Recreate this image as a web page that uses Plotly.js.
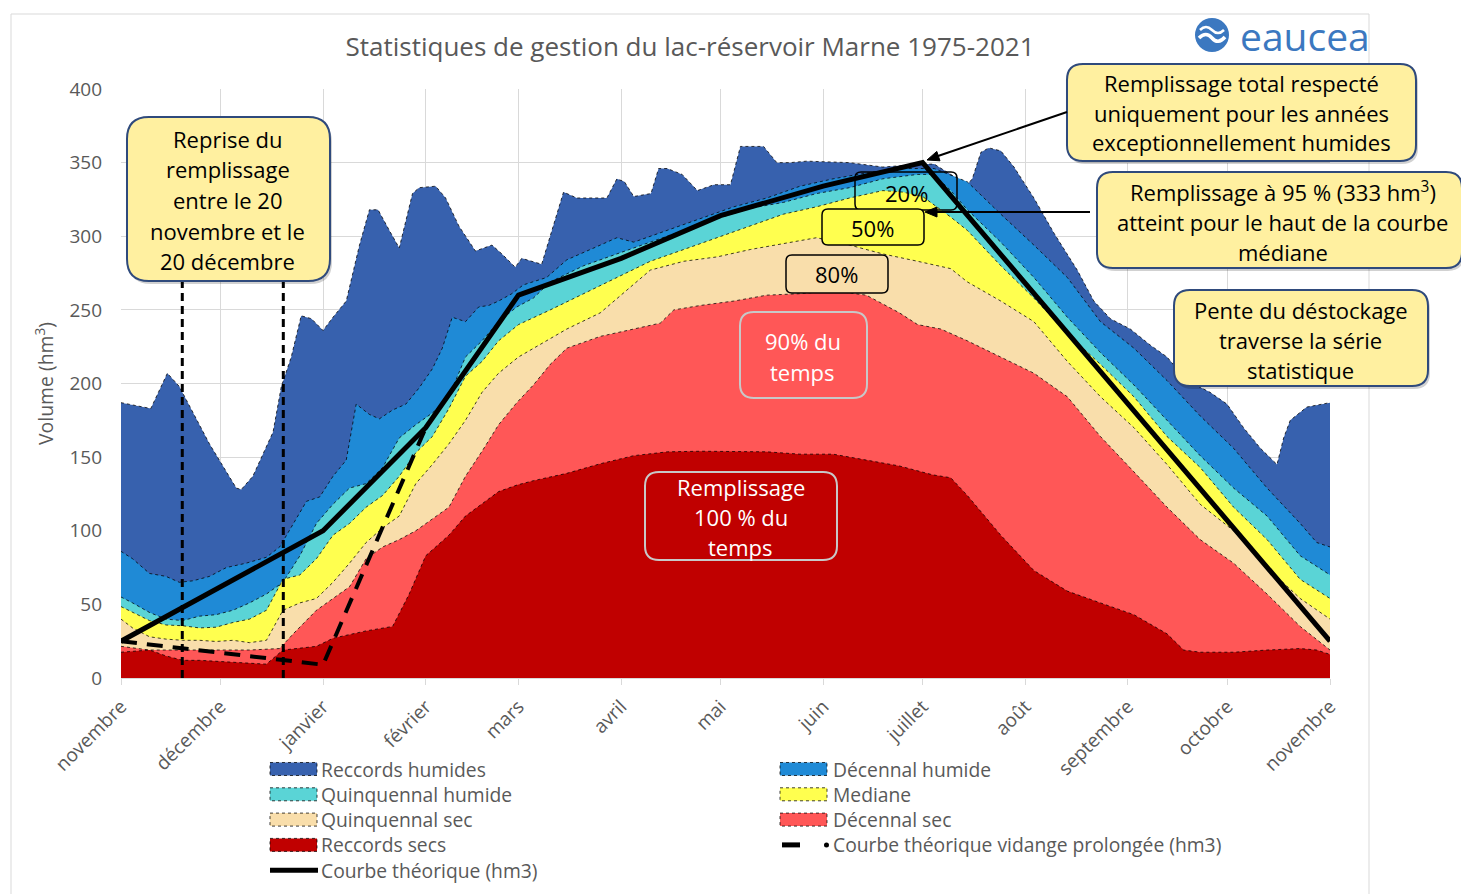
<!DOCTYPE html>
<html><head><meta charset="utf-8">
<script src="https://cdn.plot.ly/plotly-3.0.1.min.js"></script>
<style>html,body{margin:0;padding:0;background:#fff}#chart{width:1461px;height:894px}</style>
</head><body><div id="chart"></div>
<script>
// ---------- DATA (day index from 1 November, volume in hm3) ----------
const monthLabels = ['novembre','décembre','janvier','février','mars','avril','mai','juin','juillet','août','septembre','octobre','novembre'];
const monthDays = [0,30,61,92,120,151,181,212,242,273,304,334,365];

const recHumDays = [0,9,14,17.6,19.7,26.7,34.8,36.3,39.8,45.9,48.4,51.4,54.4,57.5,61,64,68,72,75,77.6,81,84,88,90,95,98,102,107,112,115,119,121,127,133.6,137.6,146.7,149.7,152,154.8,160,162.3,164.9,169.4,174,179,184,187,194,198,202,207,220,230,242,245.5,255.5,257,259.6,262,265.6,269.6,275.6,281.7,288.7,293.7,298.7,304.7,310.8,315.8,321.8,328.8,333.9,338.9,344,349,351,353,358,365];
const recHumVals = [187,183,207,198,189,159,129,128,137,167,198,218,246,244,236,245,256,294,318,318,304,292,329,333,334,326,307,290,294,288,279,285,281,330,326,326,339,337,327,329,346,346,342,331,335,335,361,361,350,350,351,350,347,349,349,335,339,357,360,358,347,326,302,277,256,244,237,226,218,202,194,186,170,156,145,163,175,184,187];

const decHumDays = [0,3.5,8.6,13.6,17.6,21.7,26.7,31.8,37.8,43.9,47.9,52,56,60,64,68,71,75,78,82,86,90,94,97,100,104,108,111,114,118,121.5,128.5,134.6,143.7,149.7,154.8,165,175,185,195,205,215,225,235,245.5,255.5,265.6,275.6,285.7,295.7,305.8,315.8,325.8,335.9,346,356,361,365];
const decHumVals = [86,81,71,69,65,66,69,75,78,82,89,105,120,123,137,148,186,179,176,182,186,197,210,224,245,242,252,253,256,261,267,272,284,293,299,296,304,312,320,326,334,339,343,346,346,337,315,294,272,242,224,202,178,156,129,105,92,89];

const quiHumDays = [0,3.5,8.6,13.6,18.6,23.7,28.7,33.8,38.8,43.9,48.9,54,59,64,69,74,79,84,89,94,99,104,109,114,119.5,124.5,129.6,139.7,149.7,159.8,169.9,180,190,200,210,220,230,240.5,245.5,250.5,255.5,265.6,275.6,285.7,295.7,305.8,315.8,325.8,335.9,346,356,365];
const quiHumVals = [55,51,44.5,40,39,42,43,46,51,57,65,83,105,118,129,132,143,163,172,180,191,218,229,242,252,258,269,280,288,296,304,312,319,323,329,333,339,342,342,331,318,296,272,245,221,199,175,151,129,110,83,70];

const medDays = [0,3.5,8.6,13.6,18.6,23.7,28.7,33.8,38.8,43.9,48.9,54,59,64,69,74,79,84,89,94,99,104,109,114,120,129.6,139.7,149.7,159.8,169.9,180,190,200,210,220,230,236,242,250.5,255.5,265.6,275.6,285.7,295.7,305.8,315.8,325.8,335.9,346,356,365];
const medVals = [48.5,44.5,39,36,35.5,34,34.5,37.7,40,46,67,70,81,97,105,116,124,137,153,164,183,205,215,229,240,250,261,272,283,291,299,307,315,320,326,331,330,327,313,304,280,258,234,213,191,164,143,116,94,67,54];

const quiSecDays = [0,3.5,8.6,13.6,18.6,23.7,28.7,33.8,38.8,43.9,48.9,54,59,64,69,74,79,84,89,94,99,104,109,114,120,124.5,134.6,144.7,154.8,159.8,169.9,180,190,200,210,220,230,240.5,250.5,255.5,265.6,275.6,285.7,295.7,305.8,315.8,325.8,335.9,346,356,365];
const quiSecVals = [40,34,28,26.4,25.6,25.6,24.8,25.6,24,25.6,46,51,54,65,78,92,102,110,132,145,159,175,194,207,218,224,237,248,267,277,283,286,291,295,299,294,288,283,278,269,256,242,215,191,170,145,118,100,75,54,40];

const decSecDays = [0,8.6,18.6,28.7,38.8,47.9,52,59,64,69,74,79,84,89,94,99,104,109,114,119.5,124.5,129.6,134.6,144.7,154.8,162.8,166.9,174.9,185,195,205,215,225,235,240.5,247.5,255.5,265.6,275.6,285.7,295.7,305.8,315.8,325.8,335.9,346,356,365];
const decSecVals = [21.5,19,19,19,19,20,30,46,54,62,81,89,94,100,108,116,137,154,172,187,199,213,224,232,237,241,250,253,256,260,261,263,260,248,240,237,229,218,207,191,164,140,116,94,78,57,35,19];

const recSecDays = [0,8.6,13.6,18.6,23.7,33.8,43.9,48.9,59,64,74,82,87,92,99,104,109,114,119.5,124.5,134.6,144.7,154.8,165,175,185,195,205,215,225,235,245,250.5,255.5,265.6,275.6,285.7,295.7,305.8,315.8,320.8,325.8,335.9,346,356,361,365];
const recSecVals = [17.5,19,15,12,12,10.8,9.4,19,21.5,27,32,35,57,83,97,110,118.5,126.6,131,134,139,145.5,151,153.6,154,154,153.6,152,152,148,144,138,136,124,97,73,59,51,43,30,19,17.5,17.5,19,20,19,16];

const theoDays = [0,61,92,120,151,181,212,242,365];
const theoVals = [25,100,170,260,285,314,334,350,25];

const vidDays = [0,61,92];
const vidVals = [25,9,170];

const seriesNames = ['Reccords humides','Décennal humide','Quinquennal humide','Mediane','Quinquennal sec','Décennal sec','Reccords secs'];
const seriesColors = ['#3761AE','#1F8AD6','#5AD4D6','#FFFF4F','#F9DEAB','#FF5757','#C00000'];
const lineNames = ['Courbe théorique vidange prolongée (hm3)','Courbe théorique (hm3)'];

// ---------- LAYOUT HELPERS (pixel -> paper) ----------
const L=121, R=1330, T=89, B=678, W=R-L, H=B-T;
const X = px => +((px-L)/W).toFixed(5);
const Y = py => +((B-py)/H).toFixed(5);
const pp = s => s.replace(/(-?\d+(?:\.\d+)?),(-?\d+(?:\.\d+)?)/g,(m,a,b)=>X(+a)+','+Y(+b));
function rr(x0,y0,x1,y1,r){
  return pp(`M${x0+r},${y0} L${x1-r},${y0} Q${x1},${y0} ${x1},${y0+r} L${x1},${y1-r} Q${x1},${y1} ${x1-r},${y1} L${x0+r},${y1} Q${x0},${y1} ${x0},${y1-r} L${x0},${y0+r} Q${x0},${y0} ${x0+r},${y0} Z`);
}
const F = "'Open Sans', sans-serif";
const GREY = '#595959';
const shapes = [], annotations = [];
function addBox(x0,y0,x1,y1,r,fill,line,lw,shadow){
  if(shadow) shapes.push({type:'path',xref:'paper',yref:'paper',path:rr(x0+2,y0+3,x1+2,y1+3,r),fillcolor:'rgba(0,0,0,0.18)',line:{width:0}});
  shapes.push({type:'path',xref:'paper',yref:'paper',path:rr(x0,y0,x1,y1,r),fillcolor:fill,line:{color:line,width:lw}});
}
function addLines(lines,cx,y0,dy,size,color,anchor){
  lines.forEach((t,i)=>annotations.push({xref:'paper',yref:'paper',x:X(cx),y:Y(y0+i*dy),text:t,showarrow:false,xanchor:anchor||'center',yanchor:'middle',font:{family:F,size:size,color:color}}));
}

// outer chart border
shapes.push({type:'rect',xref:'paper',yref:'paper',x0:X(11),x1:X(1369),y0:Y(14),y1:Y(910),line:{color:'#D9D9D9',width:1},fillcolor:'rgba(0,0,0,0)',layer:'below'});

// vertical dashed lines (20 nov / 20 dec)
[18.5,49].forEach(d=>shapes.push({type:'line',xref:'x',yref:'y',x0:d,x1:d,y0:0,y1:269,line:{color:'#000',width:3,dash:'8px,5px'}}));

// boxes
const YEL='#FFF0A0', NAVY='#2F4A7C', TS=22;
addBox(127,117,330,281,22,YEL,NAVY,2,true);
addLines(['Reprise du','remplissage','entre le 20','novembre et le','20 décembre'],228,139,30.5,TS,'#000');

addBox(1067,64,1416,161,16,YEL,NAVY,2,true);
addLines(['Remplissage total respecté','uniquement pour les années','exceptionnellement humides'],1241,83,29.5,TS,'#000');

addBox(1097,172,1462,268,16,YEL,NAVY,2,true);
addLines(['Remplissage à 95 % (333 hm<sup>3</sup>)','atteint pour le haut de la courbe','médiane'],1283,192,30,TS,'#000');

addBox(1174,290,1428,386,16,YEL,NAVY,2,true);
addLines(['Pente du déstockage','traverse la série','statistique'],1301,310,30,TS,'#000');

addBox(855,172,957,210,6,'rgba(0,0,0,0)','#000',1.5,false);
addLines(['20%'],906,193,0,TS,'#000');
addBox(822,209,924,245,6,'#FFFF4F','#000',1.5,false);
addLines(['50%'],873,228,0,TS,'#000');
addBox(786,255,888,293,6,'#F9DEAB','#000',1.5,false);
addLines(['80%'],837,274,0,TS,'#000');
addBox(740,312,867,398,14,'#FF5757','#C8C8C8',2,false);
addLines(['90% du','temps'],803,341,31,TS,'#fff');
addBox(645,472,837,560,14,'#C00000','#C8C8C8',2,false);
addLines(['Remplissage','100 % du','temps'],741,487,30,TS,'#fff');

// arrows (line + head)
shapes.push({type:'path',xref:'paper',yref:'paper',path:pp('M1067,112 L938,156'),line:{color:'#000',width:2}});
shapes.push({type:'path',xref:'paper',yref:'paper',path:pp('M927,160 L940,160.8 L936.8,151.4 Z'),fillcolor:'#000',line:{color:'#000',width:1}});
shapes.push({type:'path',xref:'paper',yref:'paper',path:pp('M1090,212 L936,212'),line:{color:'#000',width:2}});
shapes.push({type:'path',xref:'paper',yref:'paper',path:pp('M925,212 L937,207 L937,217 Z'),fillcolor:'#000',line:{color:'#000',width:1}});

// logo
const LOGO='#3B78C0';
shapes.push({type:'circle',xref:'paper',yref:'paper',x0:X(1195),x1:X(1229),y0:Y(52),y1:Y(18),fillcolor:LOGO,line:{width:0}});
shapes.push({type:'path',xref:'paper',yref:'paper',path:pp('M1200,30 Q1206,24 1212,30 T1224,30'),line:{color:'#fff',width:2.5}});
shapes.push({type:'path',xref:'paper',yref:'paper',path:pp('M1199,38 Q1206,31 1212,38 T1225,37'),line:{color:'#fff',width:3.5}});
annotations.push({xref:'paper',yref:'paper',x:X(1238),y:Y(35),xanchor:'left',yanchor:'middle',text:'eaucea',showarrow:false,font:{family:F,size:39,color:LOGO}});

// legend (two columns, drawn below the axis)
const legRows = [769,794.3,819.6,844.9,870.2];
const legCols = [[270,319],[780,831]];
const LS = 19.3;
const legOrder = [0,1,2,3,4,5,6,7,8]; // reading order: row by row, left then right
legOrder.forEach((k,i)=>{
  const row = Math.floor(i/2), col = i%2;
  const yc = legRows[row], [sx,tx] = legCols[col];
  if(k<7){
    shapes.push({type:'rect',xref:'paper',yref:'paper',x0:X(sx),x1:X(sx+47),y0:Y(yc-6.5),y1:Y(yc+6.5),fillcolor:seriesColors[k],line:{color:'rgba(0,0,0,0.75)',width:1,dash:'dot'}});
    addLines([seriesNames[k]],tx,yc,0,LS,GREY,'left');
  } else if(k===7){
    shapes.push({type:'line',xref:'paper',yref:'paper',x0:X(sx+2),x1:X(sx+20),y0:Y(yc),y1:Y(yc),line:{color:'#000',width:5}});
    shapes.push({type:'circle',xref:'paper',yref:'paper',x0:X(sx+44),x1:X(sx+49),y0:Y(yc+2.5),y1:Y(yc-2.5),fillcolor:'#000',line:{width:0}});
    addLines([lineNames[0]],tx,yc,0,LS,GREY,'left');
  } else {
    shapes.push({type:'line',xref:'paper',yref:'paper',x0:X(sx),x1:X(sx+48),y0:Y(yc),y1:Y(yc),line:{color:'#000',width:5}});
    addLines([lineNames[1]],tx,yc,0,LS,GREY,'left');
  }
});

// ---------- TRACES ----------
const dotLine = {color:'rgba(0,0,0,0.75)',width:1,dash:'dot'};
const areaDays = [recHumDays,decHumDays,quiHumDays,medDays,quiSecDays,decSecDays,recSecDays];
const areaVals = [recHumVals,decHumVals,quiHumVals,medVals,quiSecVals,decSecVals,recSecVals];
const traces = seriesNames.map((n,i)=>({type:'scatter',mode:'lines',name:n,x:areaDays[i],y:areaVals[i],fill:'tozeroy',fillcolor:seriesColors[i],line:dotLine,showlegend:false}));
traces.push({type:'scatter',mode:'lines',name:lineNames[0],x:vidDays,y:vidVals,line:{color:'#000',width:4,dash:'16px,10px'},showlegend:false});
traces.push({type:'scatter',mode:'lines',name:lineNames[1],x:theoDays,y:theoVals,line:{color:'#000',width:5},showlegend:false});

const layout = {
  width:1461, height:894,
  margin:{l:L, r:1461-R, t:T, b:894-B, pad:0},
  paper_bgcolor:'#fff', plot_bgcolor:'#fff',
  font:{family:F, color:GREY},
  title:{text:'Statistiques de gestion du lac-réservoir Marne 1975-2021', font:{family:F,size:26,color:GREY}, xref:'paper', x:X(690), xanchor:'center', yref:'container', y:1-47/894, yanchor:'middle'},
  xaxis:{range:[0,365], tickvals:monthDays, ticktext:monthLabels, tickangle:-45, tickfont:{family:F,size:19,color:GREY}, showgrid:true, gridcolor:'#D9D9D9', gridwidth:1, zeroline:false, showline:true, linecolor:'#D9D9D9', ticks:'outside', ticklen:6, tickcolor:'#D9D9D9', ticklabelstandoff:3, fixedrange:true},
  yaxis:{range:[0,400], dtick:50, tickfont:{family:F,size:19,color:GREY}, showgrid:true, gridcolor:'#D9D9D9', gridwidth:1, zeroline:false, showline:false, ticks:'', ticklabelstandoff:18,
         title:{text:'Volume (hm<sup>3</sup>)', font:{family:F,size:19.4,color:GREY}, standoff:10}, fixedrange:true},
  showlegend:false,
  shapes:shapes,
  annotations:annotations,
  hovermode:false
};
Plotly.newPlot('chart', traces, layout, {displayModeBar:false, staticPlot:true});
</script>
</body></html>
